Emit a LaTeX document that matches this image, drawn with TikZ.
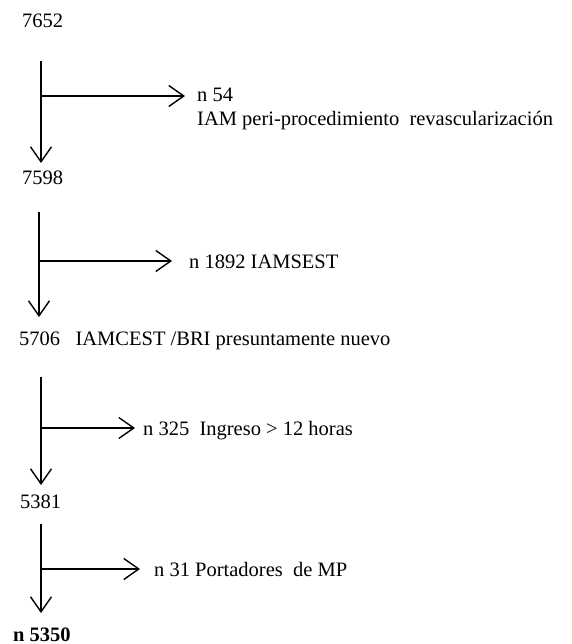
\documentclass[tikz,border=0pt]{standalone}
\usepackage{fontspec}
\setmainfont{Liberation Serif}
\usetikzlibrary{arrows.meta}

\begin{document}
\begin{tikzpicture}[x=1pt, y=-1pt,
  lbl/.style={anchor=base west, inner sep=0pt, font=\fontsize{20.5}{24}\selectfont},
  arr/.style={-{Straight Barb[length=15pt, width=21pt, line width=1.4pt]}, line width=1.4pt}
]
\useasboundingbox (0,0) rectangle (571,644);

% counts along the main flow
\node[lbl] (n7652) at (22,28) {7652};
\node[lbl] (n7598) at (22,185) {7598};
\node[lbl] (n5706) at (19,345) {5706\ \ \ IAMCEST /BRI presuntamente nuevo};
\node[lbl] (n5381) at (20,508) {5381};
\node[lbl, font=\fontsize{20.5}{24}\selectfont\bfseries] (n5350) at (13,641) {n 5350};

% exclusions
\node[lbl, align=left] (x54) at (197,126) {n 54\\IAM peri-procedimiento\ \ revascularización};
\node[lbl] (x1892) at (189,268) {n 1892 IAMSEST};
\node[lbl] (x325) at (143,435) {n 325\ \ Ingreso > 12 horas};
\node[lbl] (x31) at (154,576) {n 31 Portadores\ \ de MP};

% line ends
\coordinate (t1) at (41,61);  \coordinate (e1) at (41,163); \coordinate (b1) at (41,96);
\coordinate (t2) at (39,212); \coordinate (e2) at (39,317); \coordinate (b2) at (39,261);
\coordinate (t3) at (41,377); \coordinate (e3) at (41,485); \coordinate (b3) at (41,428);
\coordinate (t4) at (41,524); \coordinate (e4) at (41,613); \coordinate (b4) at (41,569);

\draw[arr] (t1) -- (e1);
\draw[arr] (t2) -- (e2);
\draw[arr] (t3) -- (e3);
\draw[arr] (t4) -- (e4);

\draw[arr, shorten >=12pt] (b1) -- (b1 -| x54.west);
\draw[arr, shorten >=17pt] (b2) -- (b2 -| x1892.west);
\draw[arr, shorten >=8pt] (b3) -- (b3 -| x325.west);
\draw[arr, shorten >=14pt] (b4) -- (b4 -| x31.west);
\end{tikzpicture}
\end{document}
